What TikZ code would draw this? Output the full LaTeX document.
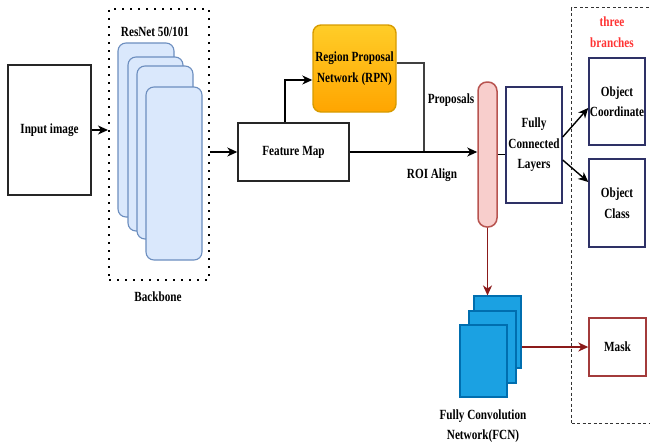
\documentclass[tikz,border=0pt]{standalone}
\usepackage{fontspec}
\setmainfont[FakeStretch=0.8]{Liberation Serif}
\usetikzlibrary{arrows.meta}
\usepackage{xcolor}
\definecolor{cLayer}{HTML}{DAE8FC}
\definecolor{bLayer}{HTML}{6C8EBF}
\definecolor{cRpnT} {HTML}{FFCD28}
\definecolor{cRpnB} {HTML}{FFA500}
\definecolor{bRpn}  {HTML}{D79B00}
\definecolor{cRoi}  {HTML}{F8CECC}
\definecolor{bRoi}  {HTML}{B85450}
\definecolor{cFcn}  {HTML}{1BA1E2}
\definecolor{bFcn}  {HTML}{006EAF}
\definecolor{bNavy} {HTML}{2E3166}
\definecolor{lRed}  {HTML}{8B1A1A}
\definecolor{bMask} {HTML}{A33B3B}
\definecolor{tRed}  {HTML}{FF3333}
\tikzset{
  txt/.style={font=\bfseries\fontsize{14}{20.5}\selectfont, align=center, inner sep=1pt},
  box/.style={txt, draw, line width=1.4pt},
  plainbox/.style={box, draw=black!85},
  navybox/.style ={box, draw=bNavy},
  maskbox/.style ={box, draw=bMask},
  rpnbox/.style  ={box, draw=bRpn, rounded corners=8pt, top color=cRpnT, bottom color=cRpnB},
  layerbox/.style={draw=bLayer, fill=cLayer, rounded corners=8pt, line width=1.1pt},
  fcnbox/.style  ={draw=bFcn, fill=cFcn, line width=1.1pt},
  pillbox/.style ={draw=bRoi, fill=cRoi, rounded corners=9pt, line width=1.5pt},
  dotbox/.style  ={draw, line width=2pt, dash pattern=on 2pt off 6pt},
  dashbox/.style ={draw=black!80, line width=1.3pt, dash pattern=on 3pt off 2.5pt},
  arr/.style={-{Stealth[length=10pt,width=9pt,inset=3pt]}, draw=black, line width=1.4pt},
  redarr/.style={arr, draw=lRed, fill=lRed},
  ln/.style={draw=black, line width=1.4pt},
}

\begin{document}
\begin{tikzpicture}[x=1pt, y=-1pt]
\useasboundingbox (0,0) rectangle (650,447);

% ── Group frames ──────────────────────────────────────────────────────────────
\node[dotbox, minimum width=100pt, minimum height=271pt] (backbone) at (159,144.5) {};
\node[dashbox, anchor=north west, minimum width=100pt, minimum height=416pt] (branches) at (571,7) {};

% ── Input & backbone ──────────────────────────────────────────────────────────
\node[plainbox, minimum width=83pt, minimum height=130pt] (input) at (49.5,130) {Input image};

\node[layerbox, minimum width=56pt, minimum height=174pt] (layer1) at (146,130) {};
\node[layerbox, minimum width=55pt, minimum height=174pt] (layer2) at (155.5,144) {};
\node[layerbox, minimum width=56pt, minimum height=173pt] (layer3) at (165,152.5) {};
\node[layerbox, minimum width=56pt, minimum height=173pt] (layer4) at (174,173.5) {};

\node[txt] (resnet) at (155,32) {ResNet 50/101};
\node[txt] (bblbl) at (158,297) {Backbone};

% ── Feature map & RPN ─────────────────────────────────────────────────────────
\node[plainbox, minimum width=111pt, minimum height=58pt] (featmap) at (293.5,152) {Feature Map};
\node[rpnbox, minimum width=83pt, minimum height=87pt] (rpn) at (354.5,68.5) {Region Proposal\\Network (RPN)};

\coordinate (join) at (424,152);
\node[txt] (proplbl) at (451,100) {Proposals};
\node[txt] (roilbl) at (432,175) {ROI Align};

% ── ROI align & heads ─────────────────────────────────────────────────────────
\node[pillbox, minimum width=19pt, minimum height=145pt] (roi) at (487.5,154.5) {};
\node[navybox, minimum width=56pt, minimum height=116pt] (fc) at (534,145) {Fully\\Connected\\Layers};

\node[txt, text=tRed] (brlbl) at (612,32) {three\\branches};
\node[navybox, minimum width=56pt, minimum height=87pt] (coord) at (617,101.5) {Object\\Coordinate};
\node[navybox, minimum width=56pt, minimum height=88pt] (class) at (617,203) {Object\\Class};

% ── FCN & mask ────────────────────────────────────────────────────────────────
\node[fcnbox, minimum width=47pt, minimum height=72pt] (fcn1) at (497.5,332) {};
\node[fcnbox, minimum width=47pt, minimum height=72pt] (fcn2) at (492.5,347) {};
\node[fcnbox, minimum width=47pt, minimum height=72pt] (fcn3) at (483.5,361) {};
\node[txt] (fcnlbl) at (483,426) {Fully Convolution\\Network(FCN)};

\node[maskbox, minimum width=57pt, minimum height=58pt] (mask) at (617.5,347) {Mask};

% ── Arrows ────────────────────────────────────────────────────────────────────
\draw[arr] (input.east) -- (input.east -| backbone.west);
\draw[arr] (backbone.east |- featmap.west) -- (featmap.west);
\draw[arr] ([xshift=-8.5pt]featmap.north) |- ([yshift=-11.5pt]rpn.west);
\draw[ln, draw=black!75] ([yshift=5.5pt]rpn.east) -| (join);
\draw[arr] (featmap.east) -- (featmap.east -| roi.west);

\draw[ln] (roi.east) -- (roi.east -| fc.west);
\draw[arr] ([yshift=8pt]fc.east) -- ([yshift=-6.5pt]coord.west);
\draw[arr] ([yshift=-15pt]fc.east) -- ([yshift=21pt]class.west);

\draw[redarr] (roi.south) -- (roi.south |- fcn1.north);
\draw[redarr] (mask.west -| fcn1.east) -- (mask.west);

\end{tikzpicture}
\end{document}
